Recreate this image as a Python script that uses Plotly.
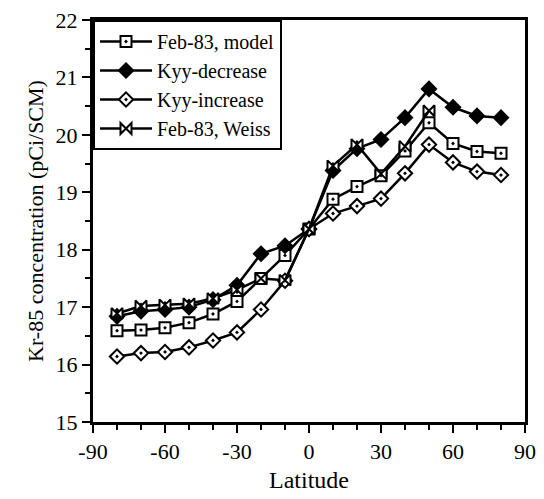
import plotly.graph_objects as go

latitude = [-80, -70, -60, -50, -40, -30, -20, -10, 0, 10, 20, 30, 40, 50, 60, 70, 80]
feb83_model = [16.59, 16.6, 16.64, 16.73, 16.88, 17.1, 17.5, 17.9, 18.36, 18.88, 19.1, 19.29, 19.72, 20.21, 19.85, 19.71, 19.68]
kyy_decrease = [16.84, 16.93, 16.96, 17.0, 17.13, 17.38, 17.93, 18.07, 18.36, 19.38, 19.76, 19.92, 20.3, 20.8, 20.48, 20.33, 20.3]
kyy_increase = [16.14, 16.2, 16.22, 16.3, 16.42, 16.56, 16.96, 17.46, 18.36, 18.63, 18.76, 18.89, 19.33, 19.83, 19.52, 19.36, 19.3]
weiss_lat = [-80, -70, -60, -50, -40, -30, -20, -10, 0, 10, 20, 30, 40, 50]
feb83_weiss = [16.89, 17.02, 17.04, 17.06, 17.15, 17.3, 17.5, 17.47, 18.36, 19.46, 19.83, 19.32, 19.8, 20.42]

font_family = "Liberation Serif, Times New Roman, serif"
ink = "black"

fig = go.Figure()

def add(name, x, y, symbol, fill):
    fig.add_trace(go.Scatter(
        x=x, y=y, name=name, mode="lines+markers",
        line=dict(color=ink, width=2.5),
        marker=dict(symbol=symbol, size=11, color=fill,
                    line=dict(color=ink, width=2)),
    ))

add("Feb-83, model", latitude, feb83_model, "square-dot", "white")
add("Kyy-decrease", latitude, kyy_decrease, "diamond", ink)
add("Kyy-increase", latitude, kyy_increase, "diamond-dot", "white")
add("Feb-83, Weiss", weiss_lat, feb83_weiss, "bowtie", "white")

axis_common = dict(
    showgrid=False, zeroline=False,
    showline=True, linecolor=ink, linewidth=3, mirror=True,
    ticks="outside", ticklen=8, tickwidth=2, tickcolor=ink,
    tickfont=dict(family=font_family, size=22, color=ink),
    ticklabeloverflow="allow",
)

fig.update_layout(
    width=544, height=499,
    margin=dict(l=93, r=19, t=8, b=77),
    paper_bgcolor="white", plot_bgcolor="white",
    font=dict(family=font_family, size=22, color=ink),
    showlegend=True,
    legend=dict(
        x=0, y=1, xanchor="left", yanchor="top",
        bgcolor="white", bordercolor=ink, borderwidth=2,
        font=dict(family=font_family, size=20, color=ink),
        tracegroupgap=0, itemwidth=52,
    ),
    xaxis=dict(
        range=[-90, 90], tickmode="array",
        tickvals=[-90, -60, -30, 0, 30, 60, 90],
        ticktext=["-90", "-60", "-30", "0", "30", "60", "90"],
        minor=dict(dtick=10, ticks="outside", ticklen=5, tickwidth=1.5, tickcolor=ink),
        title=dict(text="Latitude", font=dict(family=font_family, size=24, color=ink), standoff=8),
        **axis_common,
    ),
    yaxis=dict(
        range=[15, 22], dtick=1,
        minor=dict(dtick=0.5, ticks="outside", ticklen=5, tickwidth=1.5, tickcolor=ink),
        title=dict(text="Kr-85 concentration (pCi/SCM)", font=dict(family=font_family, size=22, color=ink), standoff=6),
        **axis_common,
    ),
)

fig.write_html("out.html")
